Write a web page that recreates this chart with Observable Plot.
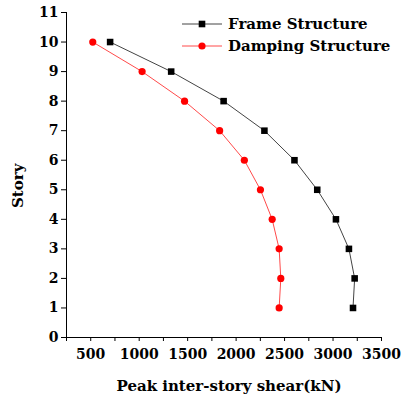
<!DOCTYPE html>
<html><head><meta charset="utf-8">
<script src="https://cdn.jsdelivr.net/npm/d3@7"></script>
<script src="https://cdn.jsdelivr.net/npm/@observablehq/plot@0.6"></script>
<style>body{margin:0;background:#fff}</style>
</head><body><div id="chart"></div>
<script>
const stories = [1, 2, 3, 4, 5, 6, 7, 8, 9, 10];
const frameShear = [3206, 3223, 3164, 3030, 2837, 2602, 2292, 1871, 1330, 700];
const dampingShear = [2444, 2461, 2444, 2372, 2251, 2085, 1830, 1468, 1030, 521];
const seriesNames = ["Frame Structure", "Damping Structure"];
const seriesColors = ["#000000", "#ff0000"];
const lineColors = ["#444444", "#ff4a4a"];
const xTicks = d3.range(250, 3501, 250);
const yTicks = d3.range(0, 12);
const xTitle = "Peak inter-story shear(kN)";
const yTitle = "Story";

const frameRows = stories.map((s, i) => ({story: s, shear: frameShear[i]}));
const dampRows = stories.map((s, i) => ({story: s, shear: dampingShear[i]}));
const font = "DejaVu Serif";

const chart = Plot.plot({
  width: 407, height: 400,
  marginLeft: 66, marginRight: 26, marginTop: 12, marginBottom: 63,
  style: {fontFamily: font, fontWeight: "bold", fontSize: "14px", color: "black", background: "white"},
  x: {domain: [xTicks[0], xTicks[xTicks.length - 1]]},
  y: {domain: [yTicks[0], yTicks[yTicks.length - 1]]},
  marks: [
    Plot.axisX({ticks: xTicks, tickFormat: d => d % 500 === 0 ? String(d) : "", tickSize: 4, tickPadding: 8, label: null, fontSize: 14}),
    Plot.axisY({ticks: yTicks, tickSize: 5, tickPadding: 3, label: null, fontSize: 14}),
    Plot.ruleX([xTicks[0]], {stroke: "black"}),
    Plot.ruleY([yTicks[0]], {stroke: "black"}),
    Plot.line(frameRows, {x: "shear", y: "story", stroke: lineColors[0], strokeWidth: 1}),
    Plot.line(dampRows, {x: "shear", y: "story", stroke: lineColors[1], strokeWidth: 1}),
    Plot.dot(frameRows, {x: "shear", y: "story", symbol: "square", r: 3.7, fill: seriesColors[0]}),
    Plot.dot(dampRows, {x: "shear", y: "story", symbol: "circle", r: 3.6, fill: seriesColors[1]}),
    Plot.text([xTitle], {text: d => d, frameAnchor: "bottom", dx: 5, dy: 53, fontSize: 15, fontWeight: "bold"}),
    Plot.text([yTitle], {text: d => d, frameAnchor: "left", rotate: -90, dx: -48, dy: 33, fontSize: 15, fontWeight: "bold"})
  ]
});
document.getElementById("chart").appendChild(chart);

// legend inside the plot area
const svg = d3.select(chart);
const lg = svg.append("g").attr("font-family", font).attr("font-weight", "bold")
  .attr("font-size", 15).attr("text-anchor", "start");
seriesNames.forEach((name, i) => {
  const y = 24 + i * 22;
  lg.append("line").attr("x1", 182).attr("x2", 222).attr("y1", y).attr("y2", y)
    .attr("stroke", lineColors[i]).attr("stroke-width", 1);
  if (i === 0) {
    lg.append("rect").attr("x", 202 - 3.3).attr("y", y - 3.3).attr("width", 6.6).attr("height", 6.6).attr("fill", seriesColors[i]);
  } else {
    lg.append("circle").attr("cx", 202).attr("cy", y).attr("r", 3.6).attr("fill", seriesColors[i]);
  }
  lg.append("text").attr("x", 228).attr("y", y).attr("dy", "0.35em").attr("fill", "black").text(name);
});
</script>
</body></html>
